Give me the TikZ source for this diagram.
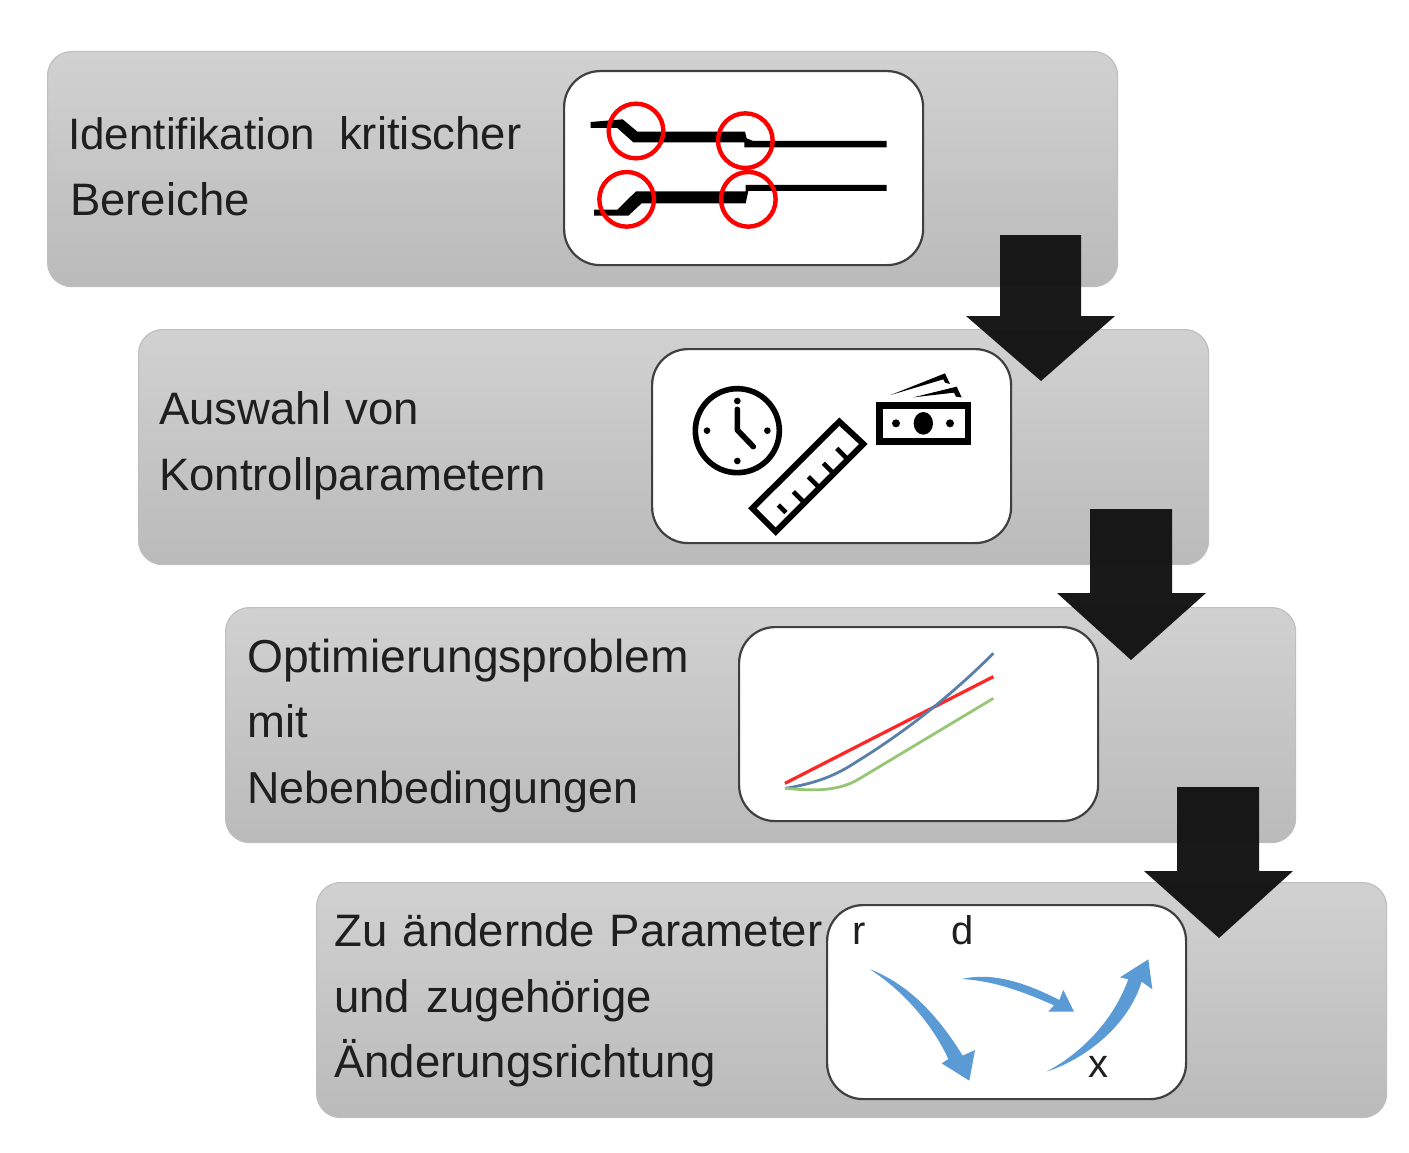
\documentclass[tikz,border=0pt]{standalone}
\usepackage{fontspec}
\setmainfont{Liberation Sans}
\begin{document}
\begin{tikzpicture}[x=1pt,y=-1pt,
  stagebox/.style={draw=black!25,line width=1.2pt,rounded corners=24pt,top color=black!18,bottom color=black!27,minimum width=1070pt,minimum height=235pt,inner sep=0pt,anchor=north west},
  iconbox/.style={draw=black!75,fill=white,line width=2.2pt,rounded corners=36pt,minimum width=359pt,minimum height=194pt,inner sep=0pt,anchor=north west},
  label/.style={anchor=west,align=left,inner sep=0pt,text=black!88,font=\fontsize{45.5}{65.5}\selectfont},
  small/.style={inner sep=0pt,text=black!88,font=\fontsize{40}{44}\selectfont},
  downarrow/.style={fill=black!93,fill opacity=.97,draw=none},
  icon/.style={x=0.33333pt,y=-0.33333pt},
  ring/.style={draw=red,line width=4.4pt},
  blk/.style={draw=black,line width=5.6pt}
]
\useasboundingbox (0,0) rectangle (1409,1153);
\fill[white] (0,0) rectangle (1409,1153);
\node[stagebox] (s1) at (47,51) {};
\node[stagebox] (s2) at (138,329) {};
\node[stagebox] (s3) at (225,607) {};
\node[stagebox] (s4) at (316,882) {};
\node[iconbox] (i1) at (563,70) {};
\node[iconbox] (i2) at (651,348) {};
\node[iconbox] (i3) at (738,626) {};
\node[iconbox] (i4) at (826,904) {};
\node[label] (t1) at (68,166) {{\fontsize{44}{65.5}\selectfont Identifikation}\hspace{24pt}kritischer\\\hspace{2pt}Bereiche};
\node[label] (t2) at (159,445.5) {Auswahl\hspace{2pt} von\\Kontrollparametern};
\node[label] (t3) at (247,725.5) {{\fontsize{46.2}{65.5}\selectfont Optimierungsproblem}\\mit\\{\fontsize{44.8}{65.5}\selectfont Nebenbedingungen}};
\node[label] (t4) at (334,1000.5) {Zu\hspace{3pt} ändernde\hspace{2pt} Parameter\\und\hspace{4pt} zugehörige\\Änderungsrichtung};
% icon 1
\begin{scope}[shift={(560,60)},icon]
\fill[black] (92,186) -- (188,178) -- (232,215) -- (555,215) -- (560,235) -- (580,243) -- (980,243) -- (980,262) -- (553,262) -- (553,247) -- (220,247) -- (172,204) -- (92,204) -- cycle;
\fill[black] (102,449) -- (172,449) -- (228,394) -- (557,394) -- (557,375) -- (980,375) -- (980,393) -- (565,393) -- (557,430) -- (245,430) -- (205,467) -- (102,467) -- cycle;
\draw[ring] (228,213) circle[radius=82];
\draw[ring] (556,242) circle[radius=82];
\draw[ring] (200,418) circle[radius=82];
\draw[ring] (565,418) circle[radius=82];
\end{scope}
% icon 2
\begin{scope}[shift={(650,340)},icon]
\draw[blk] (262,272) circle[radius=126];
\draw[blk,line cap=round,line join=round] (262,208) -- (262,270) -- (310,320);
\foreach \p in {(262,183),(171,272),(352,272),(262,363)} \fill \p circle[radius=10];
\draw[blk,line join=miter,line width=6pt] (568,245) -- (640,312) -- (377,575) -- (307,505) -- cycle;
\draw[black,line width=4.6pt] (385,495) -- (408,518) (430,455) -- (460,485) (475,410) -- (510,445) (520,370) -- (550,400) (560,325) -- (592,357);
\draw[blk,line width=6.4pt] (688,196) rectangle (954,304);
\fill (820,250) ellipse[x radius=29,y radius=34];
\fill (738,250) circle[radius=12];
\fill (900,250) circle[radius=12];
\fill (722,165) -- (885,100) -- (900,132) -- (885,128) -- (880,118) -- cycle;
\fill (790,172) -- (920,140) -- (935,172) -- (918,170) -- (912,158) -- cycle;
\end{scope}
% icon 3
\begin{scope}[shift={(740,620)},icon]
\draw[red!85!white,line width=3.2pt] (135,490) -- (760,170);
\draw[color={rgb,255:red,88;green,128;blue,168},line width=2.8pt] (135,505) .. controls (230,490) and (290,465) .. (350,425) .. controls (480,345) and (620,240) .. (760,100);
\draw[color={rgb,255:red,150;green,198;blue,115},line width=2.8pt] (135,505) .. controls (200,510) and (290,520) .. (360,475) -- (760,235);
\end{scope}
% icon 4
\begin{scope}[shift={(820,890)},icon]
\fill[color={rgb,255:red,91;green,155;blue,213}] (150,238) .. controls (260,280) and (350,370) .. (428,497) -- (465,480) -- (448,572) -- (365,520) -- (385,507) .. controls (340,410) and (260,310) .. (150,238) -- cycle;
\fill[color={rgb,255:red,91;green,155;blue,213}] (425,267) .. controls (520,245) and (620,280) .. (718,330) -- (730,300) -- (762,365) -- (685,365) -- (702,346) .. controls (610,305) and (520,272) .. (425,267) -- cycle;
\fill[color={rgb,255:red,91;green,155;blue,213}] (680,545) .. controls (790,485) and (880,390) .. (925,268) -- (900,262) -- (985,208) -- (997,298) -- (965,275) .. controls (925,405) and (800,505) .. (680,545) -- cycle;
\end{scope}
\node[small] (r) at (859,934) {r};
\node[small] (d) at (963,930) {d};
\node[small] (x) at (1098,1067) {x};
% block arrows
\fill[downarrow] (1000,235) -- (1081,235) -- (1081,316) -- (1115,316) -- (1041,381) -- (966,316) -- (1000,316) -- cycle;
\fill[downarrow] (1090,509) -- (1172,509) -- (1172,593) -- (1206,593) -- (1131,660) -- (1057,593) -- (1090,593) -- cycle;
\fill[downarrow] (1177,787) -- (1259,787) -- (1259,871) -- (1293,871) -- (1219,938) -- (1144,871) -- (1177,871) -- cycle;
\end{tikzpicture}
\end{document}
